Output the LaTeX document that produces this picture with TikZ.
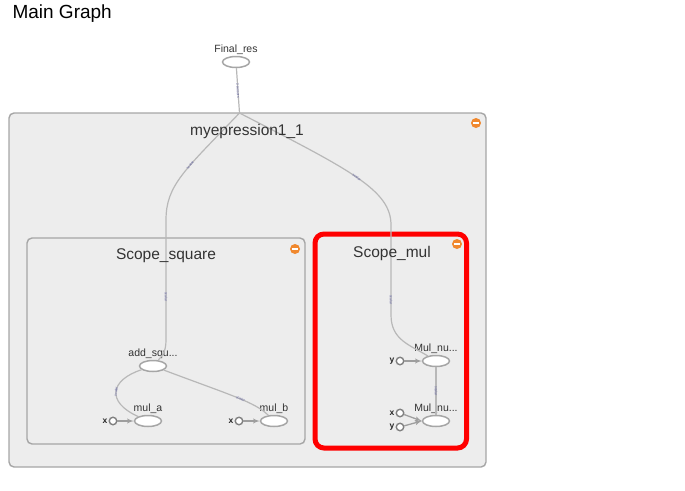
\documentclass[tikz,border=0pt]{standalone}
\usepackage{fontspec}
\setmainfont{Liberation Sans}
\usetikzlibrary{shapes.geometric,positioning,arrows}
\definecolor{tbOrange}{HTML}{F0882E}
\definecolor{tbRed}{HTML}{FF0000}

\begin{document}
\begin{tikzpicture}
		[x=1pt,y=-1pt,
		op/.style ={ellipse, draw=black!35, line width=1.5pt, fill=white, minimum width=27pt, minimum height=11pt, inner sep=0pt},
		oplabel/.style ={font=\fontsize{10.5}{12}\selectfont, text=black!80, inner sep=1pt},
		input/.style ={circle, draw=black!50, line width=1.4pt, fill=white, minimum size=7.5pt, inner sep=0pt},
		inlabel/.style ={font=\fontsize{8.5}{9}\selectfont\bfseries, text=black!85, inner sep=1pt},
		scopebox/.style ={rectangle, draw=black!35, line width=1.4pt, fill=black!7, rounded corners=5pt},
		selectedbox/.style ={scopebox, draw=tbRed, line width=5pt, rounded corners=9pt},
		scopetitle/.style ={font=\fontsize{15.5}{18}\selectfont, text=black!80},
		collapse/.style ={circle, fill=tbOrange, minimum size=10pt, inner sep=0pt},
		line/.style ={draw=black!28, line width=1.2pt},
		inedge/.style ={color=black!38, line width=1.3pt, -latex'},
		edgelabel/.style ={font=\fontsize{3.5}{4}\selectfont, text=blue!40!black!60, sloped, inner sep=0.5pt},
		]
		\useasboundingbox (0,0) rectangle (685,490);

		\draw (9,14) node[anchor=west, font=\fontsize{19}{22}\selectfont] (title) {Main Graph};

		% scopes
		\draw (247.5,290) node[scopebox, minimum width=477pt, minimum height=354pt] (myexpr) {};
		\draw (166,341) node[scopebox, minimum width=278pt, minimum height=206pt] (square) {};
		\draw (390.75,341) node[selectedbox, minimum width=151.5pt, minimum height=214pt] (mul) {};

		\draw (476,123) node[collapse] (myexpr-icon) {\textcolor{white}{\rule{6.5pt}{1.8pt}}};
		\draw (295,249) node[collapse] (square-icon) {\textcolor{white}{\rule{6.5pt}{1.8pt}}};
		\draw (457,244) node[collapse] (mul-icon) {\textcolor{white}{\rule{6.5pt}{1.8pt}}};

		% ops
		\draw (236,62) node[op, label={[oplabel]above:Final\_res}] (final) {};
		\draw (153,366) node[op, label={[oplabel]above:add\_squ...}] (add) {};
		\draw (148,421) node[op, label={[oplabel]above:mul\_a}] (mula) {};
		\draw (274,421) node[op, label={[oplabel]above:mul\_b}] (mulb) {};
		\draw (436,361) node[op, label={[oplabel]above:Mul\_nu...}] (mulnu1) {};
		\draw (436,421) node[op, label={[oplabel]above:Mul\_nu...}] (mulnu2) {};

		% inputs
		\draw (113,421) node[input, label={[inlabel]left:x}] (xa) {};
		\draw (239,421) node[input, label={[inlabel]left:x}] (xb) {};
		\draw (400,361) node[input, label={[inlabel]left:y}] (y1) {};
		\draw (400,413) node[input, label={[inlabel]left:x}] (x2) {};
		\draw (400,427) node[input, label={[inlabel]left:y}] (y2) {};

		\coordinate (entry) at (239.5,113);

		\draw[line] (final) -- node[edgelabel] {2 tensors} (entry);
		\draw[line] (entry) .. controls (185,170) and (166,185) .. node[edgelabel, pos=0.4] {scalar} (166,220)
			-- node[edgelabel, pos=0.64] {scalar} (166,340) .. controls (166,352) and (162,356) .. (add);
		\draw[line] (entry) .. controls (350,170) and (391,190) .. node[edgelabel, pos=0.5] {scalar} (391,225)
			-- node[edgelabel, pos=0.83] {scalar} (391,315) .. controls (391,340) and (410,345) .. (mulnu1);
		\draw[line] (add) .. controls (110,380) and (106,402) .. node[edgelabel, pos=0.5] {scalar} (mula);
		\draw[line] (add) .. controls (230,395) and (255,402) .. node[edgelabel, pos=0.55] {scalar} (mulb);
		\draw[line] (mulnu1) -- node[edgelabel] {scalar} (mulnu2);

		\path[inedge]
		(xa) edge (mula)
		(xb) edge (mulb)
		(y1) edge (mulnu1)
		(x2) edge (mulnu2.west)
		(y2) edge (mulnu2.west);

		% scope titles on top
		\draw (247,131) node[scopetitle] (myexpr-title) {myepression1\_1};
		\draw (166,256) node[scopetitle] (square-title) {Scope\_square};
		\draw (392,253) node[scopetitle] (mul-title) {Scope\_mul};
	\end{tikzpicture}
\end{document}
